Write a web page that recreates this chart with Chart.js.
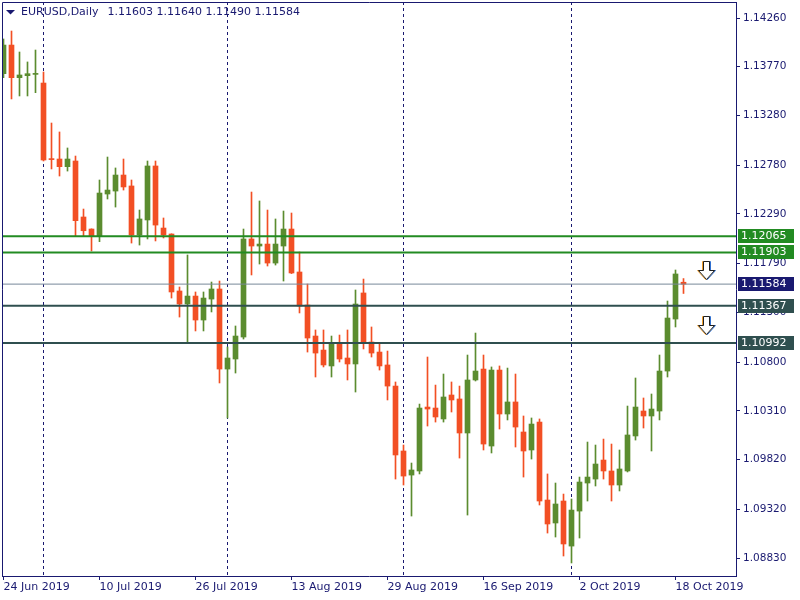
<!DOCTYPE html>
<html><head><meta charset="utf-8">
<script src="https://cdn.jsdelivr.net/npm/chart.js@4"></script>
<style>html,body{margin:0;padding:0;background:#fff}#wrap{width:800px;height:600px}</style>
</head><body><div id="wrap"><canvas id="c" width="800" height="600"></canvas></div>
<script>
const symbolTitle = 'EURUSD,Daily';
const titleOHLC = ['1.11603', '1.11640', '1.11490', '1.11584'];

const opens = [1.13700,1.13988,1.13660,1.13680,1.13693,1.13606,1.12842,1.12842,1.12765,1.12822,
1.12259,1.12138,1.12061,1.12490,1.12520,1.12681,1.12571,1.12078,1.12229,1.12772,
1.12148,1.12088,1.11515,1.11384,1.11464,1.11223,1.11434,1.11535,1.10730,1.10831,
1.11052,1.12038,1.11967,1.11987,1.11796,1.11967,1.12138,1.11706,1.11374,1.11062,
1.10921,1.10761,1.10992,1.10841,1.10781,1.11495,1.11002,1.10901,1.10771,1.10559,
1.09906,1.09664,1.09705,1.10348,1.10338,1.10228,1.10469,1.10429,1.10087,1.10620,
1.10730,1.09956,1.10720,1.10278,1.10399,1.10097,1.09916,1.10197,1.09413,1.09182,
1.09403,1.08950,1.09302,1.09584,1.09624,1.09815,1.09705,1.09564,1.09705,1.10057,
1.10308,1.10258,1.10308,1.10710,1.11233,1.11603];
const highs = [1.14049,1.14129,1.13918,1.13818,1.13938,1.13717,1.13204,1.13114,1.12953,1.12872,
1.12339,1.12140,1.12631,1.12862,1.12752,1.12842,1.12631,1.12329,1.12822,1.12822,
1.12249,1.12090,1.11555,1.11877,1.11505,1.11505,1.11605,1.11615,1.10952,1.11163,
1.12138,1.12510,1.12420,1.12329,1.12239,1.12319,1.12299,1.11907,1.11585,1.11123,
1.11123,1.11062,1.11072,1.11123,1.11525,1.11635,1.11153,1.10982,1.10911,1.10600,
1.09966,1.09785,1.10378,1.10851,1.10569,1.10680,1.10600,1.10559,1.10871,1.11092,
1.10871,1.10751,1.10761,1.10740,1.10680,1.10258,1.10238,1.10228,1.09675,1.09584,
1.09473,1.09423,1.09644,1.09996,1.09966,1.10026,1.09976,1.09916,1.10358,1.10640,
1.10439,1.10479,1.10871,1.11414,1.11726,1.11640];
const lows = [1.13660,1.13446,1.13476,1.13476,1.13509,1.12822,1.12742,1.12671,1.12721,1.12061,
1.12061,1.11917,1.12011,1.12440,1.12359,1.12530,1.11997,1.11977,1.12038,1.12018,
1.12048,1.11444,1.11253,1.10992,1.11113,1.11113,1.11304,1.10590,1.10238,1.10690,
1.11032,1.11676,1.11786,1.11766,1.11776,1.11615,1.11690,1.11294,1.10901,1.10650,
1.10751,1.10650,1.10801,1.10620,1.10499,1.10932,1.10851,1.10720,1.10419,1.09624,
1.09564,1.09252,1.09675,1.10157,1.10197,1.10197,1.10298,1.09835,1.09262,1.10610,
1.09916,1.09886,1.10127,1.10218,1.09946,1.09644,1.09825,1.09363,1.09081,1.09041,
1.08850,1.08780,1.09031,1.09403,1.09554,1.09624,1.09403,1.09504,1.09695,1.10016,
1.10137,1.09906,1.10218,1.10650,1.11153,1.11490];
const closes = [1.13988,1.13660,1.13687,1.13700,1.13699,1.12832,1.12836,1.12765,1.12842,1.12222,
1.12121,1.12061,1.12500,1.12530,1.12681,1.12561,1.12078,1.12239,1.12772,1.12178,
1.12078,1.11505,1.11384,1.11464,1.11223,1.11444,1.11535,1.10730,1.10841,1.11062,
1.12038,1.11967,1.11987,1.11796,1.11987,1.12138,1.11696,1.11364,1.11042,1.10891,
1.10771,1.10992,1.10831,1.10781,1.11384,1.10992,1.10891,1.10761,1.10559,1.09866,
1.09654,1.09715,1.10338,1.10328,1.10248,1.10449,1.10419,1.10087,1.10620,1.10710,
1.09976,1.10720,1.10278,1.10399,1.10147,1.09906,1.10177,1.09403,1.09172,1.09373,
1.08971,1.09312,1.09594,1.09644,1.09775,1.09705,1.09564,1.09725,1.10067,1.10348,
1.10258,1.10328,1.10710,1.11243,1.11686,1.11584];

const xTickIndex = [0, 12, 24, 36, 48, 60, 72, 84];
const xTickLabels = ['24 Jun 2019', '10 Jul 2019', '26 Jul 2019', '13 Aug 2019', '29 Aug 2019', '16 Sep 2019', '2 Oct 2019', '18 Oct 2019'];
const yTicks = [1.14260, 1.13770, 1.13280, 1.12780, 1.12290, 1.11790, 1.11300, 1.10800, 1.10310, 1.09820, 1.09320, 1.08830];
const separatorIndex = [5, 28, 50, 71];
const levelValues = [1.12065, 1.11903, 1.11584, 1.11367, 1.10992];
const levelLabels = ['1.12065', '1.11903', '1.11584', '1.11367', '1.10992'];
const arrowIndex = [87.75, 87.75];
const arrowTop = [1.11816, 1.11263];

const NAVY = '#191970', BULL = '#5b8c2f', BEAR = '#f24f24';
const levelColors = ['#228b22', '#228b22', '#778899', '#2f4f4f', '#2f4f4f'];
const levelBoxColors = ['#228b22', '#228b22', '#191970', '#2f4f4f', '#2f4f4f'];
const levelWidths = [2, 2, 1, 2, 2];
const X_MIN = -0.1875, X_MAX = 91.5625, Y_MAX = 1.144209, Y_MIN = 1.08649;
const FONT = '"DejaVu Sans", sans-serif';

const idx = opens.map((_, i) => i);
const candleColors = idx.map(i => closes[i] >= opens[i] ? BULL : BEAR);

const wicks = {
  type: 'bar', data: idx.map(i => ({ x: i, y: [lows[i], highs[i]] })),
  backgroundColor: candleColors, grouped: false, barPercentage: 1, categoryPercentage: 1,
  maxBarThickness: 1, borderWidth: 0, order: 2
};
const bodies = {
  type: 'bar', data: idx.map(i => ({ x: i, y: [opens[i], closes[i]] })),
  backgroundColor: candleColors, grouped: false, barPercentage: 1, categoryPercentage: 1,
  maxBarThickness: 5, minBarLength: 1, borderWidth: 0, order: 1
};
const levelSets = levelValues.map((v, k) => ({
  type: 'line', data: [{ x: X_MIN, y: v }, { x: X_MAX, y: v }],
  borderColor: levelColors[k], borderWidth: levelWidths[k], pointRadius: 0, order: 0
}));

const decor = {
  id: 'decor',
  beforeDatasetsDraw(chart) {
    const { ctx, chartArea: a, scales: { x } } = chart;
    ctx.save();
    ctx.fillStyle = NAVY;
    ctx.beginPath(); ctx.moveTo(6, 10); ctx.lineTo(15, 10); ctx.lineTo(10.5, 14.5); ctx.closePath(); ctx.fill();
    ctx.font = '11px ' + FONT;
    ctx.textBaseline = 'middle';
    ctx.textAlign = 'left';
    ctx.fillText(symbolTitle, 21, 12);
    const nameEnd = 21 + ctx.measureText(symbolTitle).width;
    ctx.fillText(titleOHLC.join(' '), Math.max(102, nameEnd + 9), 12);
    ctx.strokeStyle = NAVY; ctx.lineWidth = 1; ctx.setLineDash([3, 3]);
    separatorIndex.forEach(i => {
      const px = x.getPixelForValue(i);
      ctx.beginPath(); ctx.moveTo(px, a.top); ctx.lineTo(px, a.bottom); ctx.stroke();
    });
    ctx.restore();
  },
  afterDraw(chart) {
    const { ctx, chartArea: a, scales: { x, y } } = chart;
    ctx.save();
    ctx.strokeStyle = NAVY; ctx.lineWidth = 1;
    ctx.beginPath();
    ctx.moveTo(a.left + 0.5, a.bottom); ctx.lineTo(a.left + 0.5, a.top + 0.5); ctx.lineTo(a.right, a.top + 0.5);
    ctx.stroke();
    ctx.font = '11px ' + FONT; ctx.textBaseline = 'middle'; ctx.textAlign = 'left';
    levelValues.forEach((v, k) => {
      const py = Math.round(y.getPixelForValue(v));
      ctx.fillStyle = levelBoxColors[k];
      ctx.fillRect(738, py - 7, 56, 14);
      ctx.fillStyle = '#ffffff';
      ctx.fillText(levelLabels[k], 741, py + 0.5);
    });
    arrowIndex.forEach((xi, k) => {
      const cx = Math.round(x.getPixelForValue(xi)) + 0.5;
      const ty = Math.round(y.getPixelForValue(arrowTop[k])) + 0.5;
      const path = (dx, dy) => {
        ctx.beginPath();
        ctx.moveTo(cx - 3 + dx, ty + dy); ctx.lineTo(cx + 3 + dx, ty + dy);
        ctx.lineTo(cx + 3 + dx, ty + 9 + dy); ctx.lineTo(cx + 8 + dx, ty + 9 + dy);
        ctx.lineTo(cx + dx, ty + 18 + dy); ctx.lineTo(cx - 8 + dx, ty + 9 + dy);
        ctx.lineTo(cx - 3 + dx, ty + 9 + dy); ctx.closePath();
      };
      ctx.lineWidth = 1;
      path(-1, 0); ctx.strokeStyle = '#f0a030'; ctx.stroke();
      path(1, 0); ctx.strokeStyle = '#3070d0'; ctx.stroke();
      path(0, 0); ctx.fillStyle = '#ffffff'; ctx.fill(); ctx.strokeStyle = '#202020'; ctx.stroke();
    });
    ctx.restore();
  }
};

new Chart(document.getElementById('c'), {
  type: 'bar',
  data: { datasets: [...levelSets, bodies, wicks] },
  options: {
    responsive: false, animation: false,
    layout: { padding: { left: 2, top: 2, right: 0, bottom: 0 } },
    plugins: { legend: { display: false }, tooltip: { enabled: false }, title: { display: false } },
    scales: {
      x: {
        type: 'linear', position: 'bottom', min: X_MIN, max: X_MAX, offset: false,
        afterBuildTicks: s => { s.ticks = xTickIndex.map(v => ({ value: v })); },
        afterFit: s => { s.height = 24; s.paddingLeft = 0; s.paddingRight = 0; },
        ticks: {
          callback: v => xTickLabels[xTickIndex.indexOf(v)], align: 'start', maxRotation: 0, minRotation: 0,
          autoSkip: false, padding: 1, color: NAVY, font: { family: FONT, size: 11 }
        },
        grid: { drawOnChartArea: false, drawTicks: true, tickLength: 4, color: NAVY, offset: false },
        border: { display: true, color: NAVY }
      },
      y: {
        type: 'linear', position: 'right', min: Y_MIN, max: Y_MAX,
        afterBuildTicks: s => { s.ticks = yTicks.map(v => ({ value: v })); },
        afterFit: s => { s.width = 64; s.paddingTop = 0; s.paddingBottom = 0; },
        ticks: { callback: v => Number(v).toFixed(5), autoSkip: false, padding: 3, color: NAVY, font: { family: FONT, size: 10.5 } },
        grid: { drawOnChartArea: false, drawTicks: true, tickLength: 4, color: NAVY },
        border: { display: true, color: NAVY }
      }
    }
  },
  plugins: [decor]
});
</script>
</body></html>
